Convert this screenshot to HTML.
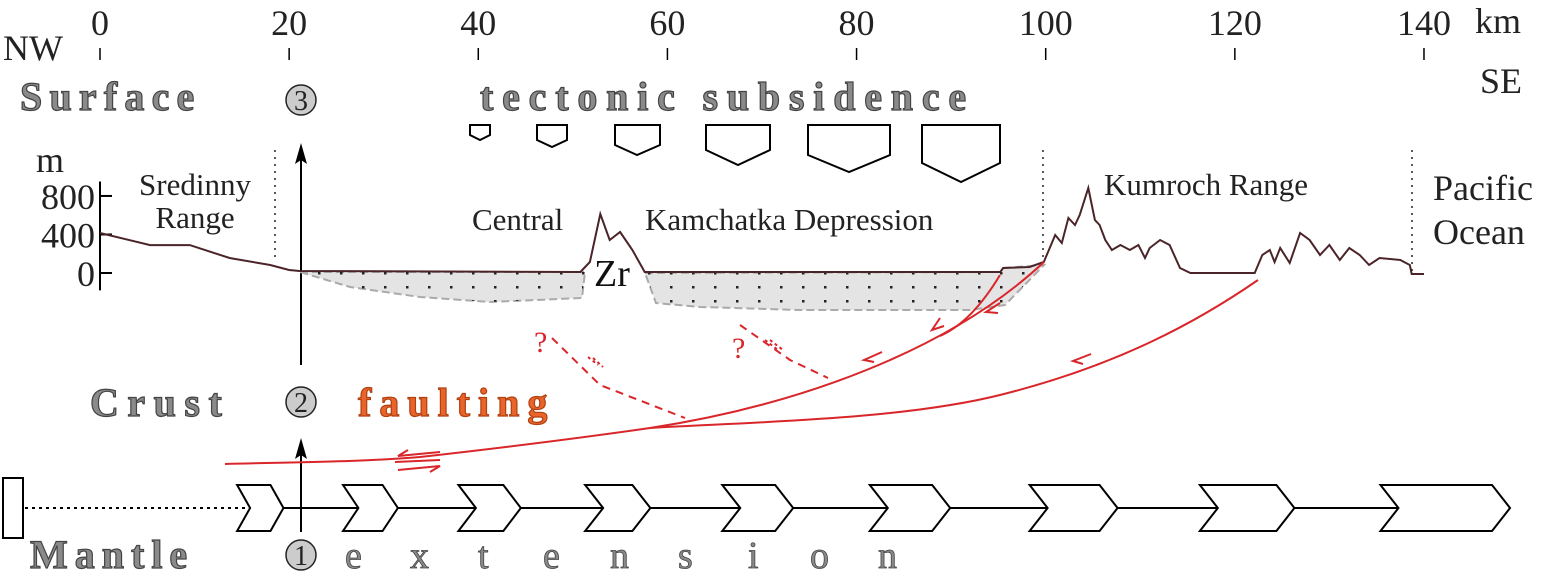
<!DOCTYPE html>
<html><head><meta charset="utf-8">
<style>
html,body{margin:0;padding:0;background:#fff;}
svg{display:block;font-family:"Liberation Serif",serif;}
.big{font-family:"Liberation Serif",serif;font-weight:bold;font-size:40px;fill:#8a8a8a;stroke:#444;stroke-width:1.2;letter-spacing:8px;}
.t{font-family:"Liberation Serif",serif;font-size:36px;fill:#222;}
.lab{font-family:"Liberation Serif",serif;font-size:31px;fill:#222;}
.q{font-family:"Liberation Serif",serif;font-size:30px;fill:#d9262a;stroke:none;}
</style></head>
<body>
<svg id="chart" width="1548" height="585" viewBox="0 0 1548 585" xmlns="http://www.w3.org/2000/svg">
<defs>
<pattern id="dots" width="22" height="14" patternUnits="userSpaceOnUse"><rect x="10" y="6" width="2.5" height="2.5" fill="#222"/></pattern>
</defs>
<g id="xaxis"></g>
<g id="yaxis"></g>
<text x="3" y="60" class="t">NW</text>
<text x="1475" y="33" class="t">km</text>
<text x="1480" y="93" class="t">SE</text>
<text x="36" y="172" class="t">m</text>

<text x="20" y="110" class="big" style="letter-spacing:7.2px">Surface</text>
<text x="90" y="416" class="big" style="letter-spacing:8.5px">Crust</text>
<text x="30" y="568" class="big" style="letter-spacing:7px">Mantle</text>
<text x="480" y="110" class="big" style="letter-spacing:8.8px">tectonic subsidence</text>
<text x="358" y="416" class="big" style="fill:#e8642a;stroke:#b04010;letter-spacing:8px">faulting</text>
<g class="big" style="letter-spacing:0;font-weight:normal;stroke-width:0.8;font-size:38px">
<text x="345" y="568">e</text><text x="410" y="568">x</text><text x="478" y="568">t</text><text x="543" y="568">e</text><text x="610" y="568">n</text><text x="678" y="568">s</text><text x="748" y="568">i</text><text x="810" y="568">o</text><text x="878" y="568">n</text>
</g>

<g>
<circle cx="301" cy="100" r="15" fill="#ccc" stroke="#222" stroke-width="1.5"/><text x="301" y="110" text-anchor="middle" font-size="28" fill="#222">3</text>
<circle cx="301" cy="402" r="15" fill="#ccc" stroke="#222" stroke-width="1.5"/><text x="301" y="412" text-anchor="middle" font-size="28" fill="#222">2</text>
<circle cx="301" cy="555" r="15" fill="#ccc" stroke="#222" stroke-width="1.5"/><text x="301" y="565" text-anchor="middle" font-size="28" fill="#222">1</text>
</g>
<g>
<line x1="301" y1="365" x2="301" y2="155" stroke="#000" stroke-width="2"/>
<path d="M301,143 L307,164 L301,160 L295,164 Z" fill="#000"/>
</g>
<g>
<line x1="301" y1="532" x2="301" y2="448" stroke="#000" stroke-width="2"/>
<path d="M301,438 L307,459 L301,455 L295,459 Z" fill="#000"/>
</g>

<g fill="#fff" stroke="#000" stroke-width="2">
<path d="M470,125 H490 V135 L480,140 L470,135 Z"/>
<path d="M537,125 H567 V140 L552,147 L537,140 Z"/>
<path d="M615,125 H660 V145 L637,155 L615,145 Z"/>
<path d="M706,125 H770 V150 L738,165 L706,150 Z"/>
<path d="M808,125 H890 V155 L849,172 L808,155 Z"/>
<path d="M922,125 H1000 V163 L961,182 L922,163 Z"/>
</g>

<g stroke="#222" stroke-width="1.5" stroke-dasharray="2,5">
<line x1="275" y1="150" x2="275" y2="262"/><line x1="1043" y1="150" x2="1043" y2="262"/><line x1="1412" y1="150" x2="1412" y2="272"/>
</g>

<g>
<path d="M300,272 L585,272 L582,298 L490,302 L420,297 L350,287 Z" fill="#e4e4e4" stroke="#aaa" stroke-width="2" stroke-dasharray="8,4"/>
<path d="M300,272 L585,272 L582,298 L490,302 L420,297 L350,287 Z" fill="url(#dots)"/>
<path d="M645,273 L1000,272 L1003,268 L1044,265 L1005,305 L970,310 L800,310 L700,307 L656,303 Z" fill="#e4e4e4" stroke="#aaa" stroke-width="2" stroke-dasharray="8,4"/>
<path d="M645,273 L1000,272 L1003,268 L1044,265 L1005,305 L970,310 L800,310 L700,307 L656,303 Z" fill="url(#dots)"/>
</g>

<path id="profile" fill="none" stroke="#4a2428" stroke-width="2"/>

<g>
<text x="195" y="195" class="lab" text-anchor="middle">Sredinny</text>
<text x="195" y="228" class="lab" text-anchor="middle">Range</text>
<text x="472" y="230" class="lab">Central</text>
<text x="645" y="230" class="lab">Kamchatka Depression</text>
<text x="594" y="286" font-size="38" fill="#111">Zr</text>
<text x="1104" y="195" class="lab">Kumroch Range</text>
<text x="1433" y="200" class="t">Pacific</text>
<text x="1433" y="244" class="t">Ocean</text>
</g>

<g fill="none" stroke="#d9262a" stroke-width="2">
<path d="M225,464 C300,462 360,462 420,457 C500,448 580,438 650,428 C800,405 950,350 1044,262"/>
<path d="M650,428 C750,422 900,420 1000,395 C1120,365 1200,320 1258,280"/>
<path d="M1000,275 C985,300 965,325 940,336"/>
<path d="M552,338 L600,385 L685,418" stroke-dasharray="8,6"/>
<path d="M740,325 L790,360 L828,378" stroke-dasharray="8,6"/>
<path d="M588,357 L598,365 M593,358 L603,367" stroke-dasharray="3,3"/>
<path d="M765,340 L778,350 M770,340 L783,350" stroke-dasharray="3,3"/>
<path d="M940,318 L932,330 L944,326"/>
<path d="M1000,303 L986,312 L998,313"/>
<path d="M882,352 L864,360 L874,362"/>
<path d="M1091,354 L1073,361 L1083,364"/>
<path d="M440,452 L398,456 L408,450 M395,462 L440,460"/>
<path d="M398,470 L440,466 L430,472"/>
</g>
<text x="534" y="352" class="q">?</text>
<text x="732" y="358" class="q">?</text>

<g>
<rect x="3" y="478" width="20" height="60" fill="#fff" stroke="#000" stroke-width="2"/>
<line x1="25" y1="508" x2="245" y2="508" stroke="#000" stroke-width="2" stroke-dasharray="3,4"/>
<line x1="280" y1="508" x2="1490" y2="508" stroke="#000" stroke-width="2"/>
<g id="chevrons" fill="#fff" stroke="#000" stroke-width="2"></g>
</g>

<script>
const kmTicks=[0,20,40,60,80,100,120,140];
const elevTicks=[0,400,800];
const profileKm=[0,5.3,9.5,13.7,18,20,21.1,50.8,51.8,52.9,53.9,55,56.3,57.6,95.2,95.5,98.3,99.8,101,101.7,102.4,103.1,103.6,104.5,105.2,105.7,106.3,107,107.9,108.9,109.8,110.5,111,112.1,113.1,114.2,115.3,122.1,122.9,123.7,124.2,124.8,125.8,126.9,127.9,129,130,131.1,132.1,133.2,134.2,135.3,137.5,138.5,138.7,140];
const profileElev=[415,290,290,156,83,31,21,10,114,613,343,426,239,10,10,52,62,114,395,312,571,498,602,883,550,498,343,239,291,239,291,156,260,343,291,52,0,0,187,239,114,260,104,415,343,187,291,135,260,187,83,156,135,83,-10,-10];
const chevronStartKm=[14.5,25.7,37.9,51.3,65.8,81.4,98.3,116.3,135.4];
const chevronLenKm=[4.9,5.8,6.6,6.9,7.5,8.5,9.3,10.0,13.7];

const X=k=>100+k*9.457;
const Y=m=>273-m*0.0963;
const NS='http://www.w3.org/2000/svg';
const xa=document.getElementById('xaxis');
kmTicks.forEach(k=>{
 const l=document.createElementNS(NS,'line');
 l.setAttribute('x1',X(k));l.setAttribute('x2',X(k));l.setAttribute('y1',48);l.setAttribute('y2',60);
 l.setAttribute('stroke','#000');l.setAttribute('stroke-width','1.5');
 
 
 xa.appendChild(l);
 const t=document.createElementNS(NS,'text');
 t.setAttribute('x',X(k));t.setAttribute('y',35);t.setAttribute('text-anchor','middle');t.setAttribute('class','t');
 t.textContent=k;
 
 
 xa.appendChild(t);
});
const ya=document.getElementById('yaxis');
const ax=document.createElementNS(NS,'line');
ax.setAttribute('x1',100);ax.setAttribute('x2',100);ax.setAttribute('y1',Y(950));ax.setAttribute('y2',Y(-180));
ax.setAttribute('stroke','#000');ax.setAttribute('stroke-width','2');


ya.appendChild(ax);
elevTicks.forEach(m=>{
 const l=document.createElementNS(NS,'line');
 l.setAttribute('x1',100);l.setAttribute('x2',112);l.setAttribute('y1',Y(m));l.setAttribute('y2',Y(m));
 l.setAttribute('stroke','#000');l.setAttribute('stroke-width','2');
 
 
 ya.appendChild(l);
 const t=document.createElementNS(NS,'text');
 t.setAttribute('x',95);t.setAttribute('y',Y(m)+13);t.setAttribute('text-anchor','end');t.setAttribute('class','t');
 t.textContent=m;
 
 
 ya.appendChild(t);
});
document.getElementById('profile').setAttribute('d',profileKm.map((k,i)=>(i?'L':'M')+X(k).toFixed(1)+','+Y(profileElev[i]).toFixed(1)).join(' '));
const cg=document.getElementById('chevrons');
chevronStartKm.forEach((k,i)=>{
 const x0=X(k),w=chevronLenKm[i]*9.457,n=Math.min(18,w*0.28);
 const p=document.createElementNS(NS,'path');
 p.setAttribute('d',`M${x0},485 L${x0+w-n},485 L${x0+w},508 L${x0+w-n},531 L${x0},531 L${x0+n},508 Z`);
 
 
 cg.appendChild(p);
});
</script>
</svg>
</body></html>
